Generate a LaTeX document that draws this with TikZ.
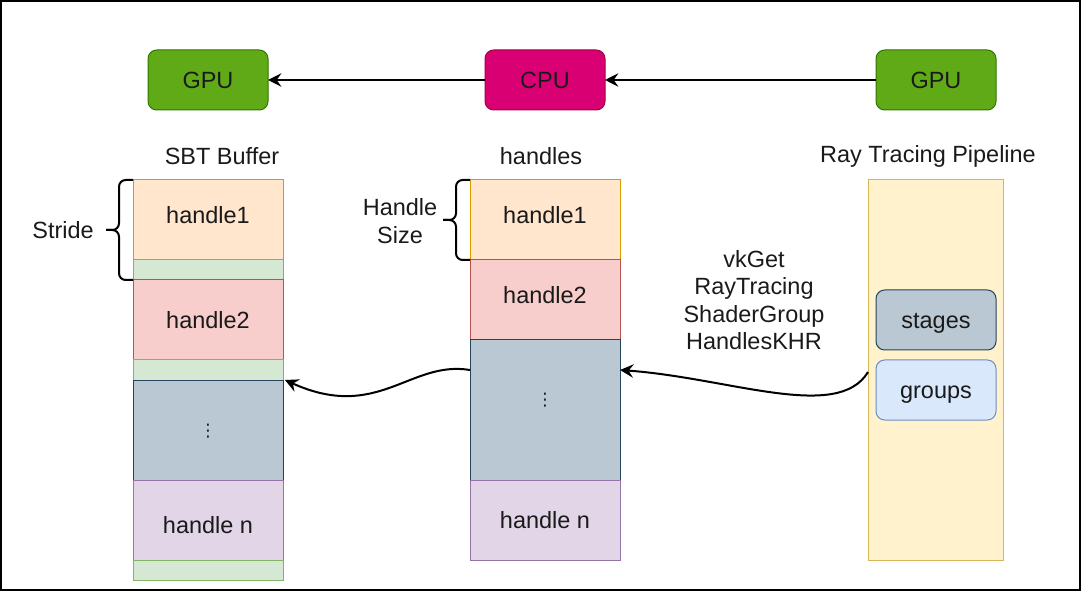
\documentclass[tikz,border=0pt]{standalone}
\usepackage{fontspec}
\setmainfont{Liberation Sans}
\newfontfamily\dvsans{DejaVu Sans}
\usetikzlibrary{arrows.meta}
\definecolor{gpuF}{HTML}{60A917}
\definecolor{gpuD}{HTML}{2D7600}
\definecolor{cpuF}{HTML}{D80073}
\definecolor{cpuD}{HTML}{A50040}
\definecolor{orF}{HTML}{FFE6CC}
\definecolor{orD}{HTML}{D79B00}
\definecolor{grF}{HTML}{D5E8D4}
\definecolor{grD}{HTML}{82B366}
\definecolor{rdF}{HTML}{F8CECC}
\definecolor{rdD}{HTML}{B85450}
\definecolor{blF}{HTML}{BAC8D3}
\definecolor{blD}{HTML}{23445D}
\definecolor{puF}{HTML}{E1D5E7}
\definecolor{puD}{HTML}{9673A6}
\definecolor{yeF}{HTML}{FFF2CC}
\definecolor{yeD}{HTML}{D6B656}
\definecolor{lbF}{HTML}{DAE8FC}
\definecolor{lbD}{HTML}{6C8EBF}
\definecolor{txt}{HTML}{1A1A1A}
\newcommand{\vdotsglyph}{{\dvsans\fontsize{13}{13}\selectfont ⋮}}
\begin{document}
\begin{tikzpicture}[x=0.75pt,y=-0.75pt,
  font=\fontsize{17.6}{20.6}\selectfont, text=txt,
  chip/.style={draw, line width=0.75pt, rounded corners=6.5pt, minimum width=90pt, minimum height=45pt, inner sep=0pt, outer sep=0pt, text height=12.6pt, text depth=0pt},
  cell/.style={draw, line width=0.75pt, minimum width=112.5pt, inner sep=0pt, outer sep=0pt, anchor=north west},
  lbl/.style={inner sep=0pt, align=center},
  arr/.style={line width=1.5pt, -{Stealth[length=10pt,width=10pt,inset=3.5pt]}},
  brc/.style={line width=1.5pt, rounded corners=5pt}
]
\useasboundingbox (0,0) rectangle (1081,591);
\draw[line width=1.2pt] (1,1) rectangle (1080,590);

% top row
\node[chip, fill=gpuF, draw=gpuD] (gpuL) at (208,80) {GPU};
\node[chip, fill=cpuF, draw=cpuD] (cpu) at (545,80) {CPU};
\node[chip, fill=gpuF, draw=gpuD] (gpuR) at (936,80) {GPU};
\draw[arr] (cpu) -- (gpuL);
\draw[arr] (gpuR) -- (cpu);

% titles
\node[lbl] (tS) at (222,156) {SBT Buffer};
\node[lbl] (tH) at (541,156) {handles};
\node[lbl] (tP) at (928,156) {Ray Tracing Pipeline};

% SBT buffer column
\node[cell, fill=orF, draw=orD, minimum height=60pt, label={[lbl, yshift=3.75pt]center:handle1}] (s1) at (133,180) {};
\node[cell, fill=grF, draw=grD, minimum height=15pt] (sg1) at (133,260) {};
\node[cell, fill=rdF, draw=rdD, minimum height=60pt, label={[lbl]center:handle2}] (s2) at (133,280) {};
\node[cell, fill=grF, draw=grD, minimum height=15pt] (sg2) at (133,360) {};
\node[cell, fill=blF, draw=blD, minimum height=75pt, label={[lbl, yshift=-0.75pt]center:\vdotsglyph}] (sd) at (133,380) {};
\node[cell, fill=puF, draw=puD, minimum height=60pt, label={[lbl, yshift=-3.75pt]center:handle n}] (sn) at (133,480) {};
\node[cell, fill=grF, draw=grD, minimum height=15pt] (sg3) at (133,560) {};

% handles column
\node[cell, fill=orF, draw=orD, minimum height=60pt, label={[lbl, yshift=3.75pt]center:handle1}] (h1) at (470,180) {};
\node[cell, fill=rdF, draw=rdD, minimum height=60pt, label={[lbl, yshift=3.75pt]center:handle2}] (h2) at (470,260) {};
\node[cell, fill=blF, draw=blD, minimum height=105pt, label={[lbl, yshift=7.5pt]center:\vdotsglyph}] (hd) at (470,340) {};
\node[cell, fill=puF, draw=puD, minimum height=60pt, label={[lbl]center:handle n}] (hn) at (470,480) {};

% pipeline
\node[draw=yeD, fill=yeF, line width=0.75pt, minimum width=101.25pt, minimum height=285pt, inner sep=0pt, outer sep=0pt, anchor=north west] (pipe) at (868,180) {};
\node[chip, fill=blF, draw=blD] (stages) at (936,320) {stages};
\node[chip, fill=lbF, draw=lbD] (groups) at (936,390) {groups};

% braces
\draw[brc] (s1.north west) -- ++(-14,0) -- ++(0,50) -- ++(-13,0);
\draw[brc] (sg1.south west) -- ++(-14,0) -- ++(0,-50) -- ++(-13,0);
\node[lbl] (stride) at (63,230) {Stride};

\draw[brc] (h1.north west) -- ++(-14,0) -- ++(0,40) -- ++(-13,0);
\draw[brc] (h1.south west) -- ++(-14,0) -- ++(0,-40) -- ++(-13,0);
\node[lbl] (hsize) at (400,221) {Handle\\Size};

\node[lbl] (vk) at (754,300) {vkGet\\RayTracing\\ShaderGroup\\HandlesKHR};

% curved arrows
\draw[arr] ([yshift=-1.5pt]pipe.west) .. controls +(-30,50) and +(110,8) .. ([yshift=-22.5pt]hd.north east);
\draw[arr] ([yshift=-22.5pt]hd.north west) .. controls +(-60,-10) and +(93,42) .. ([xshift=1.5pt]sd.north east);
\end{tikzpicture}
\end{document}
